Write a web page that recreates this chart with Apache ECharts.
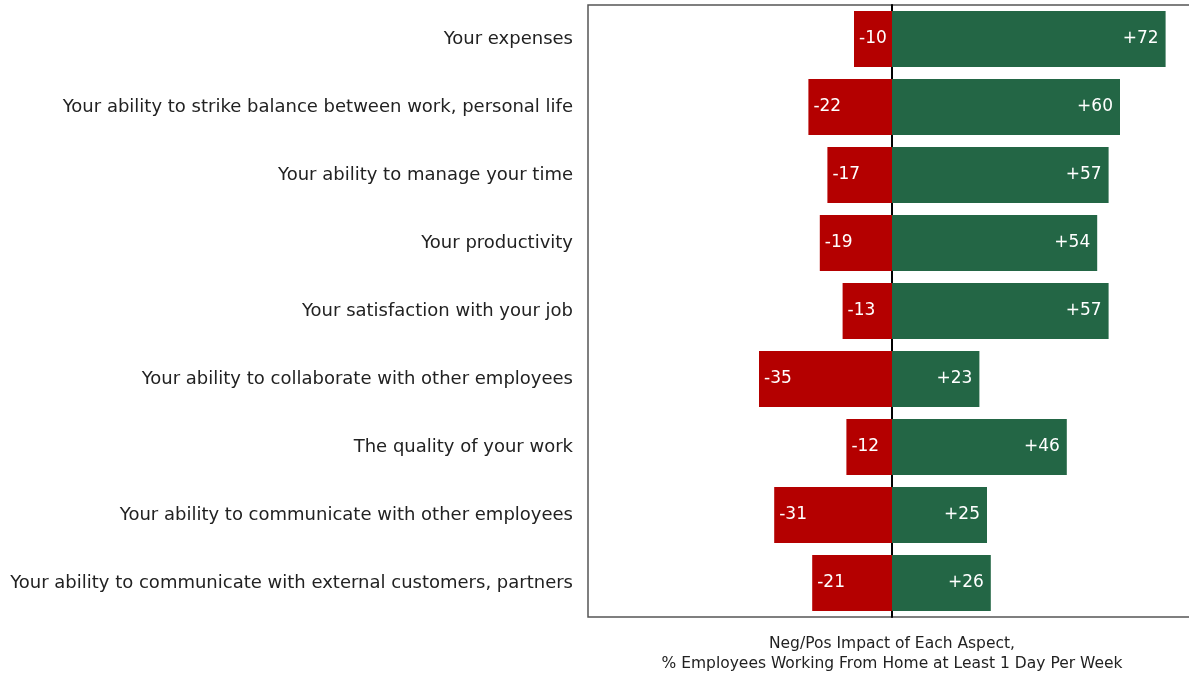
<!DOCTYPE html>
<html>
<head>
<meta charset="utf-8">
<script src="https://cdn.jsdelivr.net/npm/echarts@6/dist/echarts.min.js"></script>
<style>html,body{margin:0;padding:0;background:#fff;}#c{width:1189px;height:677px;}</style>
</head>
<body>
<div id="c"></div>
<script>
const categories = [
  "Your expenses",
  "Your ability to strike balance between work, personal life",
  "Your ability to manage your time",
  "Your productivity",
  "Your satisfaction with your job",
  "Your ability to collaborate with other employees",
  "The quality of your work",
  "Your ability to communicate with other employees",
  "Your ability to communicate with external customers, partners"
];
const negativeImpact = [-10, -22, -17, -19, -13, -35, -12, -31, -21];
const positiveImpact = [72, 60, 57, 54, 57, 23, 46, 25, 26];
const axisTitle = "Neg/Pos Impact of Each Aspect,\n% Employees Working From Home at Least 1 Day Per Week";

const chart = echarts.init(document.getElementById('c'), null, {renderer: 'canvas'});
const font = "'DejaVu Sans', sans-serif";
chart.setOption({
  animation: false,
  grid: {left: 588, top: 5, width: 608, height: 612, show: true, borderColor: '#555', borderWidth: 1.5,
    containLabel: false, outerBoundsMode: 'none'},
  xAxis: {
    type: 'value', min: -80, max: 80,
    axisLabel: {show: false}, axisTick: {show: false}, splitLine: {show: false},
    axisLine: {show: false},
    name: axisTitle, nameLocation: 'middle', nameGap: 17,
    nameTextStyle: {fontFamily: font, fontSize: 15.5, color: '#222', lineHeight: 20, verticalAlign: 'top'}
  },
  yAxis: {
    type: 'category', data: categories, inverse: true,
    axisTick: {show: false},
    axisLine: {show: true, onZero: true, lineStyle: {color: '#000', width: 2}},
    axisLabel: {fontFamily: font, fontSize: 18, color: '#222', margin: 15}
  },
  series: [
    {
      type: 'bar', stack: 'impact', data: negativeImpact, barCategoryGap: '17.6%',
      itemStyle: {color: '#B40000'},
      label: {show: true, position: 'insideLeft', distance: 5, color: '#fff', fontFamily: font, fontSize: 17,
        formatter: p => String(p.value)}
    },
    {
      type: 'bar', stack: 'impact', data: positiveImpact, barCategoryGap: '17.6%',
      itemStyle: {color: '#236645'},
      label: {show: true, position: 'insideRight', distance: 7, color: '#fff', fontFamily: font, fontSize: 17,
        formatter: p => '+' + p.value}
    }
  ]
});
</script>
</body>
</html>
